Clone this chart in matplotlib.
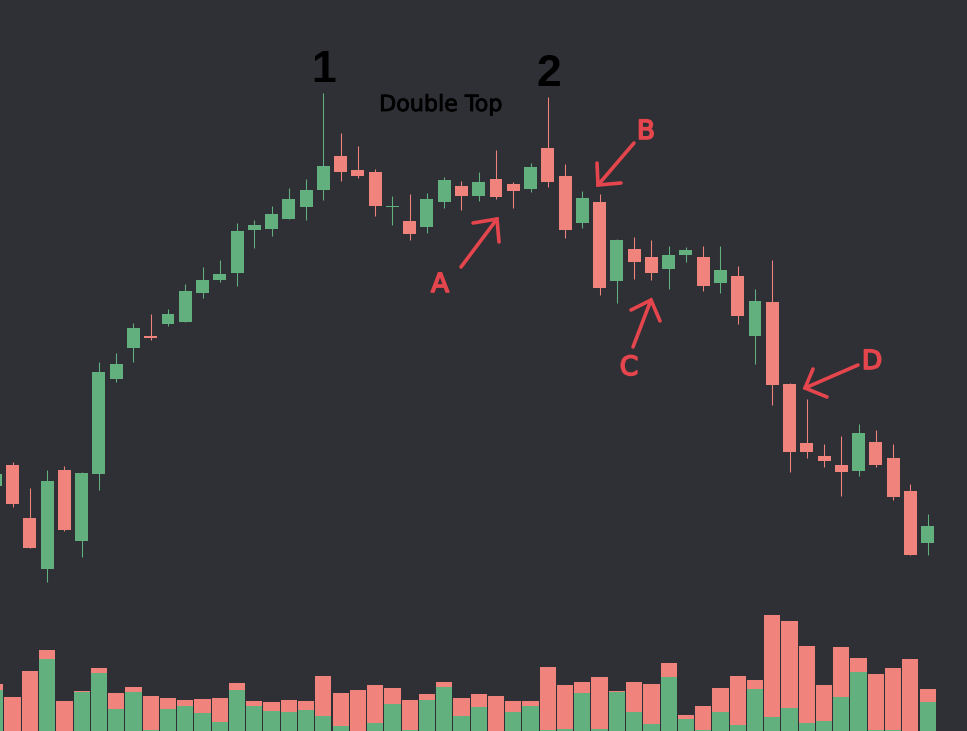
import matplotlib
matplotlib.use("Agg")
import numpy as np
import matplotlib.pyplot as plt
import matplotlib.patheffects as pe

bg = "#2f3035"
green = "#61b07e"
red = "#f0847c"
pen = "#e5454c"

# candles, first one is cut by the left edge
days = np.arange(-1, 54)
opens = [245, 266, 213, 162, 261, 190, 257, 352, 383, 395, 407, 409, 438, 451, 458, 501, 502, 512, 524,
         541, 575, 561, 559, 524, 510, 504, 529, 545, 535, 552, 547, 542, 583, 555, 508, 529, 450, 482,
         474, 462, 476, 474, 448, 455, 395, 429, 347, 288, 275, 266, 260, 289, 273, 240, 188]
closes = [257, 227, 183, 250, 201, 258, 359, 367, 403, 393, 417, 440, 451, 457, 500, 506, 517, 532, 541,
          565, 559, 555, 525, 525, 497, 532, 551, 535, 549, 534, 540, 564, 549, 501, 533, 443, 491, 469,
          458, 476, 481, 445, 461, 415, 430, 346, 279, 279, 270, 259, 298, 266, 234, 176, 205]
highs = [259, 269, 243, 261, 265, 259, 369, 378, 408, 417, 422, 447, 464, 471, 508, 511, 525, 543, 552,
         638, 598, 585, 562, 535, 537, 538, 554, 550, 559, 581, 549, 568, 634, 567, 540, 537, 492, 494,
         491, 485, 484, 485, 485, 465, 442, 471, 348, 332, 287, 295, 307, 301, 287, 247, 217]
lows = [243, 224, 183, 149, 200, 174, 241, 349, 369, 391, 405, 409, 433, 449, 445, 483, 495, 512, 511,
        531, 550, 553, 515, 506, 491, 498, 523, 521, 530, 532, 523, 539, 544, 493, 503, 436, 428, 452,
        451, 442, 469, 440, 438, 407, 367, 326, 259, 273, 264, 235, 255, 264, 231, 176, 176]

# volume, whole bar and its green part
volume = [47, 34, 60, 81, 30, 40, 63, 38, 44, 35, 33, 31, 32, 33, 48, 30, 29, 31, 30, 55, 38, 41, 46, 43,
          31, 37, 49, 33, 37, 35, 30, 30, 64, 46, 49, 54, 40, 49, 47, 68, 16, 25, 43, 55, 51, 116, 110,
          85, 46, 84, 73, 57, 63, 72, 42]
buy_volume = [41, 0, 0, 72, 0, 39, 58, 22, 39, 1, 22, 25, 18, 9, 41, 25, 20, 19, 21, 15, 5, 0, 8, 27, 1,
              31, 44, 15, 24, 0, 19, 25, 1, 2, 38, 2, 39, 19, 7, 54, 12, 1, 19, 6, 42, 14, 23, 8, 10, 34,
              59, 1, 1, 0, 29]

opens = np.array(opens)
closes = np.array(closes)
highs = np.array(highs)
lows = np.array(lows)
colors = np.where(closes >= opens, green, red)

fig = plt.figure(figsize=(9.67, 7.31), dpi=100, facecolor=bg)
xlim = (-0.73, 55.28)

# price
ax = fig.add_axes([0, 0, 1, 1])
ax.set_facecolor("none")
ax.vlines(days, lows, highs, colors=colors, linewidth=0.75)
ax.bar(days, np.abs(closes - opens), bottom=np.minimum(opens, closes), width=0.75, color=colors, linewidth=0)
ax.set_xlim(xlim)
ax.set_ylim(0, 731)
ax.axis("off")

# volume
vol = fig.add_axes([0, 0, 1, 131 / 731])
vol.set_facecolor("none")
vol.bar(days, volume, width=0.94, color=red, linewidth=0)
vol.bar(days, buy_volume, width=0.94, color=green, linewidth=0)
vol.set_xlim(xlim)
vol.set_ylim(0, 131)
vol.axis("off")

# hand drawn notes, in picture pixels
notes = fig.add_axes([0, 0, 1, 1])
notes.set_facecolor("none")
notes.set_xlim(0, 967)
notes.set_ylim(731, 0)
notes.axis("off")

arrows = [
    ((461, 267), (497, 219), (473, 223), (499, 242)),
    ((634, 143), (598, 185), (597, 163), (621, 183)),
    ((633, 347), (651, 300), (631, 310), (660, 321)),
    ((858, 365), (805, 388), (813, 369), (827, 397)),
]
for tail, tip, barb1, barb2 in arrows:
    notes.plot([tail[0], tip[0]], [tail[1], tip[1]], color=pen, lw=2.6, solid_capstyle="round")
    notes.plot([barb1[0], tip[0], barb2[0]], [barb1[1], tip[1], barb2[1]], color=pen, lw=2.6,
               solid_capstyle="round", solid_joinstyle="miter")

for label, x, y in [("A", 440, 285), ("B", 646, 132), ("C", 629, 368), ("D", 872, 362)]:
    notes.text(x, y, label, color=pen, fontsize=19, ha="center", va="center", family="DejaVu Sans",
               path_effects=[pe.withStroke(linewidth=1.2, foreground=pen)])

for label, x, y in [("1", 324, 70), ("2", 549, 74)]:
    notes.text(x, y, label, color="black", fontsize=32, fontweight="bold", ha="center", va="center",
               family="Liberation Sans")

notes.text(441, 105, "Double Top", color="black", fontsize=16, ha="center", va="center",
           family="DejaVu Sans", path_effects=[pe.withStroke(linewidth=0.6, foreground="black")])

fig.savefig("out.png", dpi=100, facecolor=bg)
